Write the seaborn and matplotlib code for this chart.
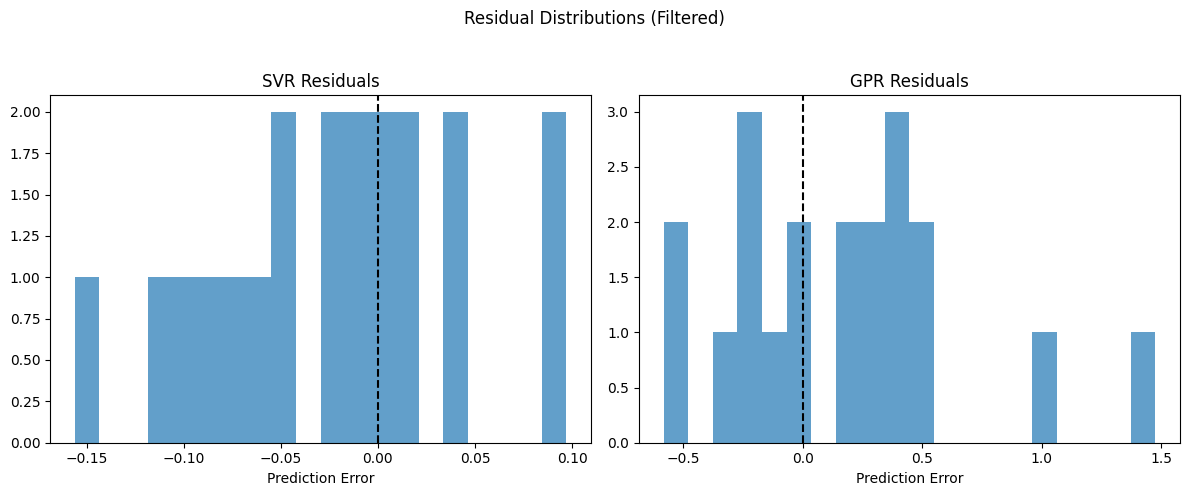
import matplotlib
matplotlib.use("Agg")
import matplotlib.pyplot as plt
import seaborn as sns
import numpy as np

svr_residuals = [-0.1562,
                 -0.112, -0.099, -0.087, -0.074, -0.061,
                 -0.051, -0.046,
                 -0.026, -0.021, -0.012, -0.008,
                 0.001, 0.005, 0.013, 0.017,
                 0.038, 0.043,
                 0.089, 0.0971]
gpr_residuals = [-0.5819, -0.53,
                 -0.32,
                 -0.25, -0.22, -0.19,
                 -0.12,
                 -0.03, 0.01,
                 0.17, 0.21,
                 0.27, 0.31,
                 0.37, 0.40, 0.43,
                 0.48, 0.52,
                 1.01,
                 1.4764]

titles = ["SVR Residuals", "GPR Residuals"]
series = [svr_residuals, gpr_residuals]

fig, axes = plt.subplots(1, 2, figsize=(11.89, 4.95), dpi=100)
for ax, data, title in zip(axes, series, titles):
    sns.histplot(x=np.array(data), bins=20, ax=ax, color="#1f77b4",
                 alpha=0.7, linewidth=0, edgecolor="none")
    ax.axvline(0, color="black", linestyle="--")
    ax.set_title(title)
    ax.set_xlabel("Prediction Error")
    ax.set_ylabel("")

fig.suptitle("Residual Distributions (Filtered)")
fig.subplots_adjust(left=0.0421, right=0.9924, top=0.8075, bottom=0.1057, wspace=0.0887)
fig.savefig("out.png", dpi=100)
